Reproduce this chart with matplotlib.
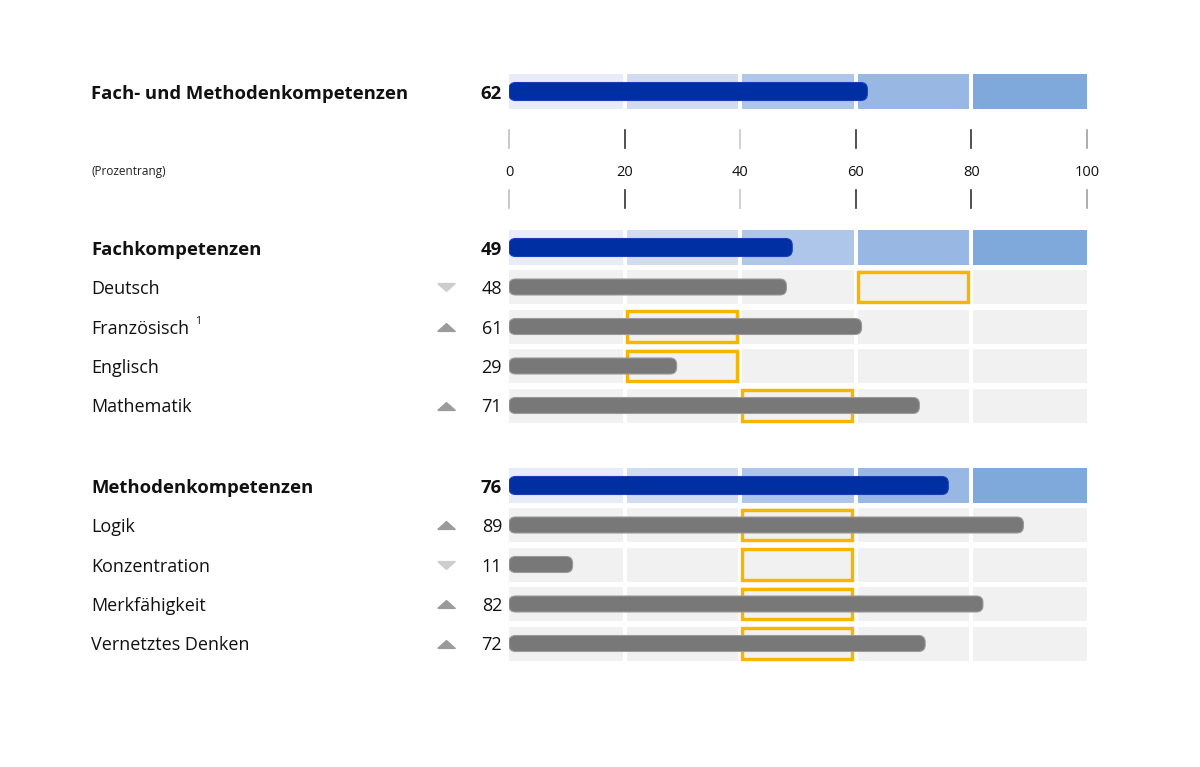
import matplotlib.pyplot as plt
from matplotlib.patches import Rectangle, FancyBboxPatch
from matplotlib.path import Path

# data
header_label = 'Fach- und Methodenkompetenzen'
header_value = 62
group_labels = ['Fachkompetenzen', 'Methodenkompetenzen']
group_values = [49, 76]
sub_labels = [['Deutsch', 'Französisch', 'Englisch', 'Mathematik'],
              ['Logik', 'Konzentration', 'Merkfähigkeit', 'Vernetztes Denken']]
sub_values = [[48, 61, 29, 71], [89, 11, 82, 72]]
# trend: 1 up, -1 down, 0 none
sub_trend = [[-1, 1, 0, 1], [1, -1, 1, 1]]
# expected range (orange box), lower bound
sub_expected = [[60, 20, 20, 40], [40, 40, 40, 40]]
ticks = [0, 20, 40, 60, 80, 100]
tick_colors = ['#c0c0c0', '#333333', '#c8c8c8', '#333333', '#333333', '#a0a0a0']

band_colors = ['#e8ecf8', '#d1dcf1', '#aec6ea', '#98b8e3', '#7ea9da']
blue = '#002ea3'
gray_bar = '#787878'
row_bg = '#f1f1f1'
orange = '#f7b500'

W, H = 1200, 767
x0_px, x1_px = 509, 1087
scale = (x1_px - x0_px) / 100.0


def px2x(px):
    return (px - x0_px) / scale


fig = plt.figure(figsize=(W / 100, H / 100), dpi=100)
fig.patch.set_facecolor('white')
ax = fig.add_axes([x0_px / W, 0, (x1_px - x0_px) / W, 1])
ax.set_xlim(0, 100)
ax.set_ylim(H, 0)
ax.axis('off')

font = ['Open Sans', 'DejaVu Sans']
label_x = px2x(91)
value_x = px2x(502)
arrow_x = px2x(446)
tri_up = Path([(-1, -0.45), (1, -0.45), (0, 0.45), (-1, -0.45)])
tri_dn = Path([(-1, 0.45), (1, 0.45), (0, -0.45), (-1, 0.45)])


def segments():
    out = []
    for i in range(5):
        a = i * 20 + (0.35 if i > 0 else 0)
        b = i * 20 + 20 - (0.35 if i < 4 else 0)
        out.append((a, b))
    return out


def rounded_bar(value, yc, h, color, edge):
    r = 6.5
    p = FancyBboxPatch((0, yc - h / 2), value, h,
                       boxstyle='round,pad=0,rounding_size=%f' % (r / scale),
                       mutation_aspect=scale, facecolor=color,
                       edgecolor=edge, linewidth=0.8, zorder=3)
    ax.add_patch(p)


def blue_row(label, value, top):
    yc = top + 17.5
    for (a, b), c in zip(segments(), band_colors):
        ax.add_patch(Rectangle((a, top), b - a, 35, facecolor=c,
                               edgecolor='none', zorder=1))
    rounded_bar(value, yc, 18, blue, '#1a3fb0')
    ax.text(label_x, yc + 2.5, label, fontsize=13.3, fontweight='bold',
            family=font, ha='left', va='center', color='#111111')
    ax.text(value_x, yc + 2.5, str(value), fontsize=13.3, fontweight='bold',
            family=font, ha='right', va='center', color='#111111')


def gray_row(label, value, trend, expected, top):
    yc = top + 17
    for a, b in segments():
        ax.add_patch(Rectangle((a, top), b - a, 34, facecolor=row_bg,
                               edgecolor='none', zorder=1))
    lw_px = 3.4
    a0 = expected + 0.1
    b0 = expected + 20 - 0.3
    ax.add_patch(Rectangle((a0 + lw_px / 2 / scale, top + lw_px / 2),
                           b0 - a0 - lw_px / scale, 34 - lw_px,
                           facecolor='none', edgecolor=orange,
                           linewidth=lw_px * 0.72, zorder=2))
    rounded_bar(value, yc, 16, gray_bar, '#9a9a9a')
    ax.text(label_x, yc + 2, label, fontsize=13, family=font,
            ha='left', va='center', color='#111111')
    ax.text(value_x, yc + 2, str(value), fontsize=13, family=font,
            ha='right', va='center', color='#111111')
    if trend == 1:
        ax.plot([arrow_x], [yc], marker=tri_up, markersize=12.5, color='#9b9b9b',
                clip_on=False, zorder=3)
    elif trend == -1:
        ax.plot([arrow_x], [yc], marker=tri_dn, markersize=12.5, color='#cdcdcd',
                clip_on=False, zorder=3)
    return yc


# header row
blue_row(header_label, header_value, 74)

# scale
for t, c in zip(ticks, tick_colors):
    ax.plot([t, t], [130, 148], color=c, linewidth=1.2, clip_on=False)
    ax.plot([t, t], [190, 208], color=c, linewidth=1.2, clip_on=False)
    ax.text(t, 172, str(t), fontsize=10.5, family=font, ha='center', va='center',
            color='#111111')
ax.text(label_x, 172, '(Prozentrang)', fontsize=8.5, family=font, ha='left',
        va='center', color='#222222')

# groups
group_tops = [230, 468]
for g in range(2):
    top = group_tops[g]
    blue_row(group_labels[g], group_values[g], top)
    for k in range(4):
        rt = top + 40 + k * 39.5
        yc = gray_row(sub_labels[g][k], sub_values[g][k], sub_trend[g][k],
                      sub_expected[g][k], rt)
        if sub_labels[g][k] == 'Französisch':
            ax.text(px2x(195), yc - 5, '1', fontsize=7.5, family=font,
                    ha='left', va='center', color='#111111')

fig.savefig('out.png', dpi=100, facecolor='white')
